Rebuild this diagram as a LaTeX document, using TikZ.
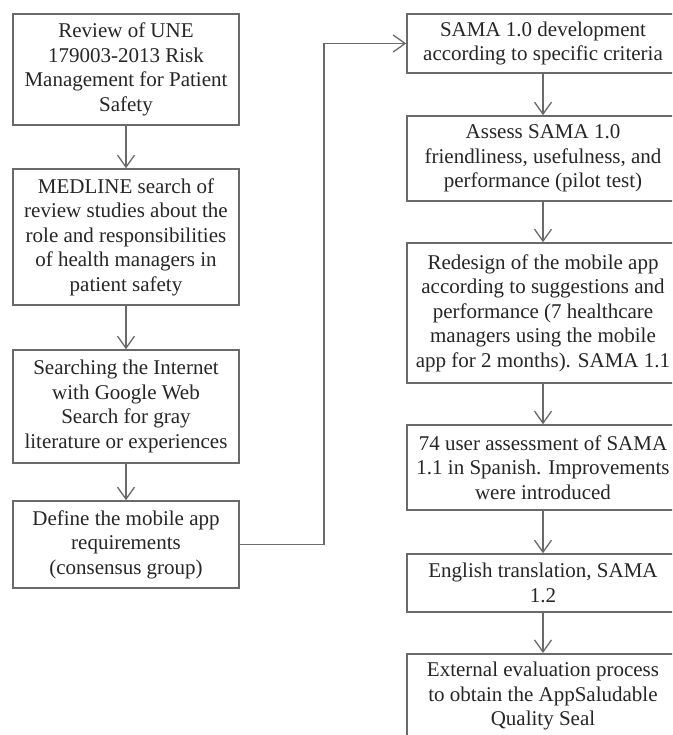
\documentclass[tikz,border=0pt]{standalone}
\usepackage{fontspec}
\setmainfont{Liberation Serif}
\usetikzlibrary{arrows.meta}
\definecolor{edge}{HTML}{6A6A6A}
\definecolor{ink}{HTML}{262626}
\begin{document}
\begin{tikzpicture}[x=1pt,y=-1pt,
  box/.style={draw=edge, line width=1.5pt, fill=white, inner sep=0pt,
    align=center, text=ink, font=\fontsize{21}{24.5}\selectfont},
  lbox/.style={box, minimum width=226pt},
  rbox/.style={box, minimum width=272pt},
  txt/.style={inner sep=0pt, align=center, text=ink, font=\fontsize{21}{24.5}\selectfont},
  flow/.style={draw=edge, line width=1.5pt, -{Straight Barb[length=12pt,width=17pt,line width=1.3pt]}}]
\useasboundingbox (0,0) rectangle (672,735);
\clip (0,0) rectangle (672,735);
\fill[white] (0,0) rectangle (672,735);

% left column
\node[lbox, minimum height=111pt] (b1) at (126,69.5)
  {Review of UNE\\179003-2013 Risk\\Management for Patient\\Safety};
\node[lbox, minimum height=136pt] (b2) at (126,237)
  {MEDLINE search of\\review studies about the\\role and responsibilities\\of health managers in\\patient safety};
\node[lbox, minimum height=113pt] (b3) at (126,406.5)
  {Searching the Internet\\with Google Web\\Search for gray\\literature or experiences};
\node[lbox, minimum height=87pt] (b4) at (126,544.5)
  {Define the mobile app\\requirements\\(consensus group)};

% right column
\node[rbox, minimum height=59pt] (b5) at (543,43.5)
  {SAMA 1.0 development\\according to specific criteria};
\node[rbox, minimum height=85pt] (b6) at (543,158.5)
  {Assess SAMA 1.0\\friendliness, usefulness, and\\performance (pilot test)};
\node[rbox, minimum height=140pt] (b7) at (543,313)
  {Redesign of the mobile app\\according to suggestions and\\performance (7 healthcare\\managers using the mobile\\app for 2 months). SAMA 1.1};
\node[rbox, minimum height=85pt] (b8) at (543,467.5)
  {74 user assessment of SAMA\\1.1 in Spanish. Improvements\\were introduced};
\node[rbox, minimum height=58pt] (b9) at (543,583)
  {English translation, SAMA\\1.2};
\node[rbox, minimum height=110pt, anchor=north] (b10) at (543,653) {};
\node[txt, anchor=north] (t10) at (543,662)
  {External evaluation process\\to obtain the AppSaludable\\Quality Seal};

% connectors
\draw[flow] (b1) -- (b2);
\draw[flow] (b2) -- (b3);
\draw[flow] (b3) -- (b4);
\draw[flow] (b4.east) -- ++(84,0) |- (b5.west);
\draw[flow] (b5) -- (b6);
\draw[flow] (b6) -- (b7);
\draw[flow] (b7) -- (b8);
\draw[flow] (b8) -- (b9);
\draw[flow] (b9) -- (b10);
\end{tikzpicture}
\end{document}
